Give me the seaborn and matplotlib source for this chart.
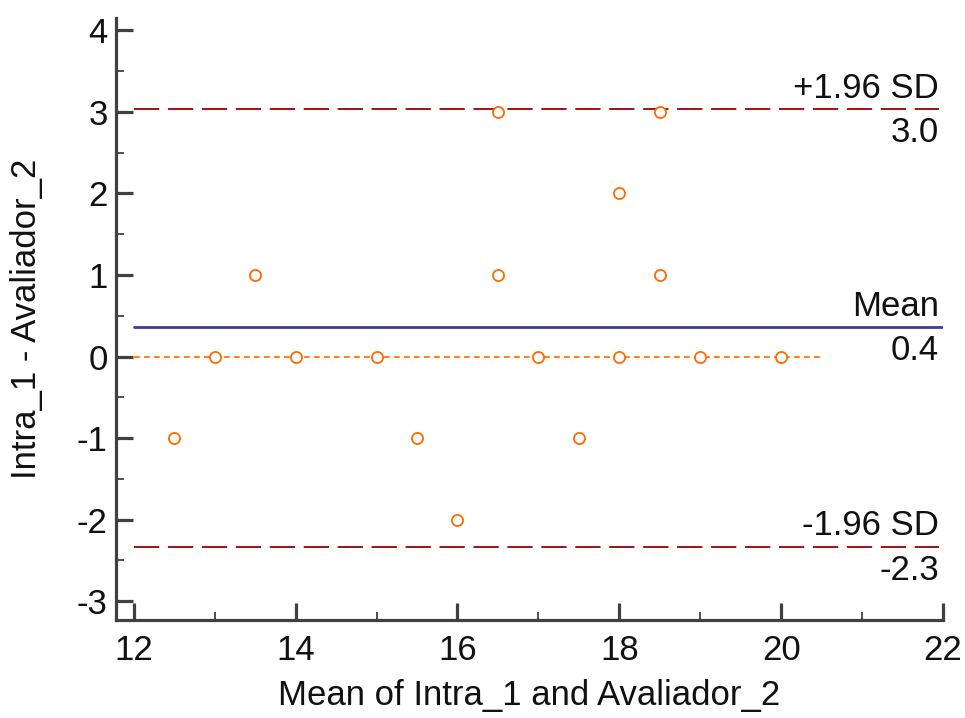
import matplotlib
matplotlib.use("Agg")
import matplotlib.pyplot as plt
import seaborn as sns
import pandas as pd
from matplotlib.ticker import MultipleLocator

# Data
mean_vals = [12.5, 13, 13.5, 14, 15, 15.5, 16, 16.5, 16.5, 17, 17.5, 18, 18, 18.5, 18.5, 19, 20]
diff_vals = [-1, 0, 1, 0, 0, -1, -2, 3, 1, 0, -1, 2, 0, 3, 1, 0, 0]
mean_diff = 0.36
upper_loa = 3.03
lower_loa = -2.33
zero_line_x = [12, 20.5]
zero_line_y = [0, 0]
x_ticks = [12, 14, 16, 18, 20, 22]
y_ticks = [-3, -2, -1, 0, 1, 2, 3, 4]

sns.set_style("ticks")
plt.rcParams['font.family'] = ['Liberation Sans', 'DejaVu Sans']
plt.rcParams['axes.unicode_minus'] = False

fig = plt.figure(figsize=(9.65, 7.18), dpi=100)
ax = fig.add_axes([116/965, 98/718, 827/965, 602/718])

df = pd.DataFrame({"m": mean_vals, "d": diff_vals})

# zero reference line (orange dashed)
ax.plot(zero_line_x, zero_line_y, color="#FF6A00", lw=1.2, ls=(0, (3.5, 2.5)), zorder=2)

# limits of agreement
dark_red = "#990000"
ax.plot([12, 21.95], [upper_loa, upper_loa], color=dark_red, lw=1.3, ls=(0, (14, 4.8)), zorder=2)
ax.plot([12, 21.95], [lower_loa, lower_loa], color=dark_red, lw=1.3, ls=(0, (14, 4.8)), zorder=2)
ax.plot([12, 22], [mean_diff, mean_diff], color="#3B3B9E", lw=2.0, zorder=2)

sns.scatterplot(data=df, x="m", y="d", ax=ax, marker="o", s=64,
                facecolors="white", edgecolor="#FF6A00", linewidth=1.3, zorder=3)

fs = 25
tc = "#111111"
tx = 21.95
for val, name in [(upper_loa, "+1.96 SD"), (mean_diff, "Mean"), (lower_loa, "-1.96 SD")]:
    ax.annotate(name, (tx, val), xytext=(0, 3), textcoords="offset points",
                ha="right", va="bottom", fontsize=fs, color=tc)
    ax.annotate(f"{val:.1f}", (tx, val), xytext=(0, -5), textcoords="offset points",
                ha="right", va="top", fontsize=fs, color=tc)

ax.set_xlim(11.78, 22)
ax.set_ylim(-3.23, 4.15)
ax.set_xticks(x_ticks)
ax.set_yticks(y_ticks)
ax.xaxis.set_minor_locator(MultipleLocator(1))
ax.yaxis.set_minor_locator(MultipleLocator(0.5))

spine_col = "#404040"
for s in ["top", "right"]:
    ax.spines[s].set_visible(False)
for s in ["left", "bottom"]:
    ax.spines[s].set_linewidth(2.3)
    ax.spines[s].set_color(spine_col)

ax.tick_params(which="major", direction="in", length=12, width=2.3, color=spine_col,
               labelsize=fs, labelcolor=tc)
ax.tick_params(which="minor", direction="in", length=6, width=1.3, color=spine_col)
ax.tick_params(axis="x", which="major", pad=10)
ax.tick_params(axis="y", which="major", pad=6)

ax.set_xlabel("Mean of Intra_1 and Avaliador_2", fontsize=fs, color=tc, labelpad=9)
ax.set_ylabel("Intra_1 - Avaliador_2", fontsize=fs, color=tc, labelpad=24)

fig.savefig("out.png", dpi=100)
